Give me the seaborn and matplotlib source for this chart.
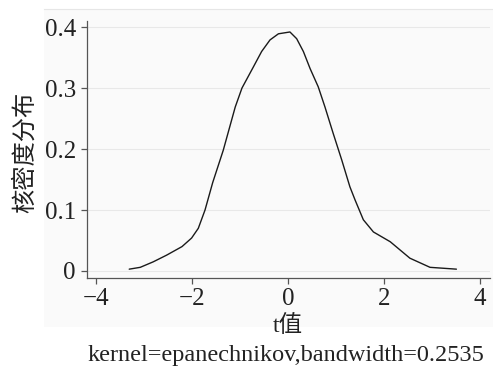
import matplotlib
matplotlib.use("Agg")
import matplotlib.pyplot as plt
import seaborn as sns
import pandas as pd

# data
t_vals = [-3.31, -3.08, -2.81, -2.53, -2.21, -2.01, -1.87, -1.73, -1.57, -1.35, -1.10,
          -0.96, -0.72, -0.55, -0.375, -0.2, 0.04, 0.18, 0.32, 0.46, 0.63, 0.77, 0.94,
          1.12, 1.29, 1.40, 1.57, 1.78, 2.13, 2.54, 2.96, 3.51]
density = [0.003, 0.006, 0.015, 0.026, 0.040, 0.054, 0.070, 0.100, 0.145, 0.198, 0.269,
           0.300, 0.335, 0.360, 0.379, 0.389, 0.392, 0.381, 0.360, 0.332, 0.302, 0.269, 0.226,
           0.182, 0.138, 0.116, 0.084, 0.064, 0.048, 0.021, 0.006, 0.003]
x_ticks = [-4, -2, 0, 2, 4]
y_ticks = [0, 0.1, 0.2, 0.3, 0.4]
y_tick_labels = ["0", "0.1", "0.2", "0.3", "0.4"]
x_label = "t值"
y_label = "核密度分布"
caption = "kernel=epanechnikov,bandwidth=0.2535"

sns.set_style("white")
fam = ["Liberation Serif", "Noto Sans CJK SC"]
plt.rcParams["font.family"] = fam

W, H = 493, 371
fig = plt.figure(figsize=(W / 100, H / 100), dpi=100)
fig.patch.set_facecolor("white")

# graph region background (separate axes behind the plot)
bg = fig.add_axes([44 / W, 1 - 327 / H, (493 - 44) / W, (327 - 9) / H], zorder=-5)
bg.set_facecolor("#fafafa")
bg.set_xticks([])
bg.set_yticks([])
for s in ["left", "right", "bottom"]:
    bg.spines[s].set_visible(False)
bg.spines["top"].set_color("#e6e6e6")
bg.spines["top"].set_linewidth(0.8)

ax = fig.add_axes([87 / W, 1 - 278 / H, (490 - 87) / W, (278 - 21) / H], zorder=1)
ax.set_facecolor("#fafafa")

df = pd.DataFrame({"t": t_vals, "d": density})
sns.lineplot(data=df, x="t", y="d", ax=ax, color="#1a1a1a", lw=1.0, sort=False)

ax.set_xlim(-4.19, 4.21)
ax.set_ylim(-0.0115, 0.41)
ax.set_xticks(x_ticks)
ax.set_xticklabels([str(v).replace("-", "\u2212") for v in x_ticks])
ax.set_yticks(y_ticks)
ax.set_yticklabels(y_tick_labels)
ax.grid(axis="y", color="#e8e8e8", lw=0.8)
ax.set_axisbelow(True)

for s in ["top", "right"]:
    ax.spines[s].set_visible(False)
for s in ["left", "bottom"]:
    ax.spines[s].set_color("#555555")
    ax.spines[s].set_linewidth(0.9)

ax.tick_params(axis="both", which="major", length=4, width=0.9, color="#555555",
               labelsize=18, labelcolor="#222222", direction="out",
               bottom=True, left=True)
ax.tick_params(axis="y", pad=4)
ax.tick_params(axis="x", pad=3)
ax.set_xlabel("")
ax.set_ylabel("")

fig.text(288 / W, 1 - 326 / H, x_label, ha="center", va="center", fontsize=17,
         color="#222222", family=fam)
fig.text(25 / W, 1 - 152 / H, y_label, ha="center", va="center", rotation=90,
         fontsize=17.5, color="#222222", family=fam)
fig.text(286 / W, 1 - 355 / H, caption, ha="center", va="center", fontsize=17.5,
         color="#222222", family=fam)

fig.savefig("out.png", dpi=100, facecolor="white")
